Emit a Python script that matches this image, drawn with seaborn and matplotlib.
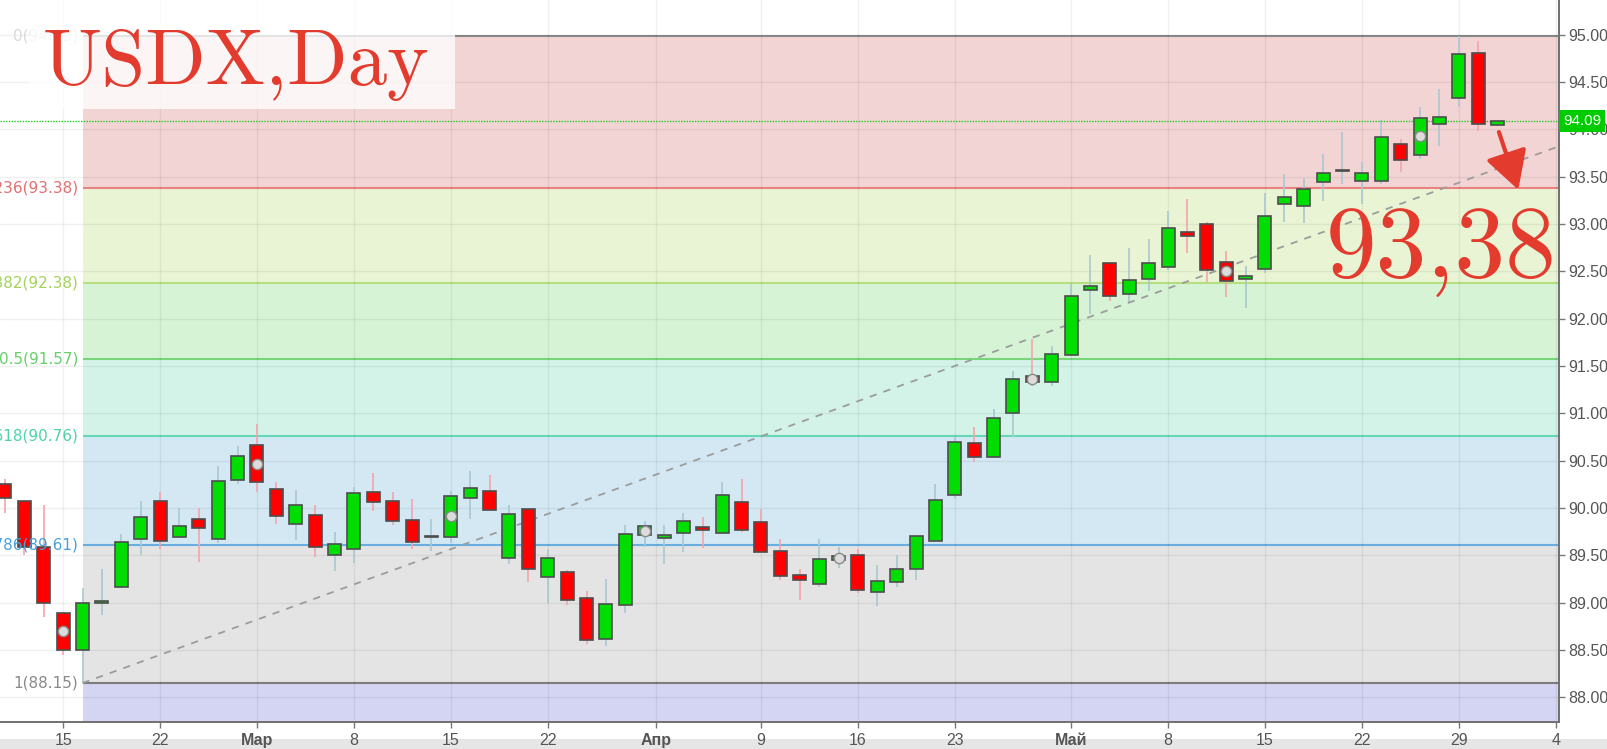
import numpy as np
import pandas as pd
import matplotlib
matplotlib.use("Agg")
import matplotlib.pyplot as plt
from matplotlib.patches import Rectangle
from matplotlib.ticker import FormatStrFormatter
import seaborn as sns

sns.set_theme(style="white")
plt.rcParams['font.family'] = ['DejaVu Sans']

# daily candles, trading-day index 0 = Feb 12
opens = [90.25, 90.07, 89.59, 88.89, 88.50, 89.00, 89.16, 89.67, 90.07, 89.69,
         89.88, 89.67, 90.30, 90.66, 90.20, 89.83, 89.92, 89.50, 89.57, 90.17,
         90.07, 89.87, 89.69, 89.69, 90.11, 90.18, 89.47, 89.99, 89.27, 89.32,
         89.05, 88.62, 88.97, 89.71, 89.68, 89.73, 89.80, 89.74, 90.06, 89.85,
         89.55, 89.29, 89.20, 89.45, 89.50, 89.11, 89.22, 89.36, 89.65, 90.14,
         90.69, 90.54, 91.00, 91.39, 91.33, 91.62, 92.30, 92.59, 92.26, 92.42,
         92.55, 92.91, 93.00, 92.60, 92.42, 92.52, 93.21, 93.19, 93.44, 93.56,
         93.45, 93.45, 93.84, 93.73, 94.06, 94.33, 94.80, 94.04]
highs = [90.31, 90.07, 90.03, 88.90, 89.15, 89.36, 89.72, 90.07, 90.17, 90.00,
         90.00, 90.44, 90.65, 90.89, 90.27, 90.19, 90.03, 89.75, 90.22, 90.37,
         90.17, 90.09, 89.88, 90.18, 90.39, 90.35, 90.03, 89.99, 89.57, 89.34,
         89.12, 89.25, 89.82, 89.86, 89.82, 89.95, 89.90, 90.27, 90.31, 89.99,
         89.67, 89.36, 89.67, 89.59, 89.57, 89.40, 89.50, 89.71, 90.25, 90.75,
         90.85, 91.04, 91.45, 91.78, 91.71, 92.36, 92.67, 92.60, 92.75, 92.84,
         93.14, 93.26, 93.02, 92.71, 92.56, 93.33, 93.53, 93.48, 93.74, 93.97,
         93.65, 94.10, 93.90, 94.23, 94.43, 94.99, 94.93, 94.10]
lows = [89.95, 89.50, 88.85, 88.45, 88.15, 88.87, 89.15, 89.50, 89.57, 89.68,
        89.43, 89.63, 90.25, 90.17, 89.83, 89.66, 89.48, 89.33, 89.42, 89.97,
        89.82, 89.57, 89.54, 89.63, 89.88, 89.97, 89.41, 89.22, 89.00, 88.97,
        88.56, 88.54, 88.89, 89.59, 89.41, 89.53, 89.58, 89.74, 89.75, 89.53,
        89.24, 89.03, 89.17, 89.37, 89.10, 88.96, 89.17, 89.24, 89.65, 90.09,
        90.48, 90.54, 90.75, 91.29, 91.29, 91.61, 92.05, 92.19, 92.18, 92.29,
        92.51, 92.69, 92.39, 92.23, 92.11, 92.48, 93.02, 93.01, 93.24, 93.42,
        93.21, 93.42, 93.55, 93.69, 93.82, 94.23, 93.98, 94.03]
closes = [90.10, 89.59, 89.00, 88.50, 89.00, 89.01, 89.64, 89.90, 89.65, 89.81,
          89.79, 90.28, 90.55, 90.27, 89.91, 90.03, 89.59, 89.62, 90.16, 90.06,
          89.86, 89.64, 89.70, 90.13, 90.21, 89.98, 89.94, 89.36, 89.47, 89.03,
          88.60, 88.98, 89.72, 89.81, 89.71, 89.86, 89.77, 90.14, 89.77, 89.53,
          89.28, 89.24, 89.46, 89.49, 89.13, 89.23, 89.35, 89.70, 90.08, 90.70,
          90.54, 90.95, 91.36, 91.33, 91.63, 92.24, 92.34, 92.24, 92.41, 92.59,
          92.96, 92.87, 92.51, 92.40, 92.45, 93.08, 93.28, 93.37, 93.54, 93.57,
          93.54, 93.92, 93.68, 94.12, 94.13, 94.79, 94.06, 94.09]
event_days = [3, 13, 23, 33, 43, 53, 63, 73]

tick_pos = [3, 8, 13, 18, 23, 28, 33.6, 39, 44, 49, 55, 60, 65, 70, 75, 80]
tick_labels = ['15', '22', 'Мар', '8', '15', '22', 'Апр', '9', '16', '23',
               'Май', '8', '15', '22', '29', '4']
month_labels = ['Мар', 'Апр', 'Май']

fib_ratios = ['0', '0.236', '0.382', '0.5', '0.618', '0.786', '1']
fib_levels = [94.99, 93.38, 92.38, 91.57, 90.76, 89.61, 88.15]
fib_start = 4
trend_x = [4, 80.17]
trend_y = [88.15, 93.82]
last_price = 94.09
arrow_from = (77.07, 93.97)
arrow_to = (78.07, 93.36)

X_MIN, X_MAX = -0.258, 80.17
Y_MIN, Y_MAX = 87.742, 95.365

line_colors = ['#8c8c8c', '#e98282', '#b4df7c', '#78d67a', '#66d8b6', '#68aee0', '#7d7d7d']
label_colors = ['#d9d9d9', '#e26f6f', '#a3d35c', '#66cf6a', '#4fd3a6', '#46a0dc', '#8a8a8a']
band_colors = ['#f2d4d4', '#e9f4d4', '#d6f3d6', '#d3f3e8', '#d3e8f3', '#e4e4e4', '#d4d4f3']
RED = '#e33b2e'

df = pd.DataFrame({'o': opens, 'h': highs, 'l': lows, 'c': closes})
df['i'] = np.arange(len(df))
df['up'] = df.c >= df.o

fig = plt.figure(figsize=(16.08, 7.49), dpi=100)
ax = fig.add_axes([0, 27.3 / 749, 1559 / 1608, 721.7 / 749])
ax.set_xlim(X_MIN, X_MAX)
ax.set_ylim(Y_MIN, Y_MAX)

# fibonacci bands
bounds = fib_levels + [Y_MIN]
for k in range(len(fib_levels)):
    ax.fill_between([fib_start, X_MAX], bounds[k + 1], bounds[k],
                    color=band_colors[k], lw=0, zorder=0.5)
for lev, rat, lc, tc in zip(fib_levels, fib_ratios, line_colors, label_colors):
    ax.hlines(lev, fib_start, X_MAX, color=lc, lw=1.5, zorder=1)
    ax.text(fib_start - 0.22, lev, f'{rat}({lev:.2f})', ha='right', va='center',
            fontsize=11, color=tc, zorder=4)

# trend line
sns.lineplot(x=trend_x, y=trend_y, ax=ax, color='#9c9c9c', lw=1.3,
             linestyle=(0, (4, 4)), zorder=2.5)

# candles
wick_col = np.where(df.up, '#a9c8d0', '#f4a4ac')
body_col = np.where(df.up, '#00dd00', '#ff0000')
ax.vlines(df.i, df.l, df.h, colors=wick_col, lw=1.2, zorder=2)
body_lo = np.minimum(df.o, df.c)
body_h = np.maximum((df.c - df.o).abs(), 0.012)
ax.bar(df.i, body_h, bottom=body_lo, width=0.67, color=body_col,
       edgecolor='#4d4d4d', linewidth=1.2, zorder=3)
ev = df.loc[event_days]
ax.scatter(ev.i, (ev.o + ev.c) / 2, s=55, facecolor='#dcdcdc',
           edgecolor='#8a8a8a', linewidth=1, zorder=5)

# current price
ax.axhline(last_price, color='#22cc22', lw=1, linestyle=(0, (1, 1)), zorder=2.8)
ax.annotate(f'{last_price:.2f}', xy=(1.0, last_price),
            xycoords=('axes fraction', 'data'), xytext=(3, 0),
            textcoords='offset points', ha='left', va='center',
            fontsize=11, color='white', annotation_clip=False,
            family='Liberation Sans',
            bbox=dict(boxstyle='square,pad=0.25', fc='#00cc00', ec='none'),
            zorder=10)

# arrow
ax.annotate('', xy=arrow_to, xytext=arrow_from,
            arrowprops=dict(arrowstyle='-|>,head_length=0.9,head_width=0.5',
                            color=RED, lw=3, mutation_scale=26,
                            shrinkA=0, shrinkB=0),
            annotation_clip=False, zorder=9)

# axes styling
ax.grid(True, color='#000000', alpha=0.06, lw=1)
ax.set_axisbelow('line')
ax.yaxis.tick_right()
ax.set_yticks(np.arange(88.0, 95.01, 0.5))
ax.yaxis.set_major_formatter(FormatStrFormatter('%.2f'))
ax.set_xticks(tick_pos, tick_labels)
for t in ax.get_xticklabels():
    t.set_family('Liberation Sans')
    if t.get_text() in month_labels:
        t.set_fontweight('bold')
for t in ax.get_yticklabels():
    t.set_family('Liberation Sans')
ax.tick_params(axis='y', right=True, left=False, length=4, width=1,
               color='#777777', pad=3, labelsize=11.5, labelcolor='#555555')
ax.tick_params(axis='x', bottom=True, length=4, width=1, color='#777777',
               pad=4, labelsize=11.5, labelcolor='#555555')
for s in ['top', 'left']:
    ax.spines[s].set_visible(False)
for s in ['right', 'bottom']:
    ax.spines[s].set_color('#707070')
    ax.spines[s].set_linewidth(1.4)
ax.set_xlabel('')
ax.set_ylabel('')

# title box and big texts
fig.patches.append(Rectangle((30 / 1608, 1 - 109 / 749), 425 / 1608, 109 / 749,
                             transform=fig.transFigure, fc='white', alpha=0.78,
                             ec='none', zorder=1))
fig.text(43 / 1608, 1 - 85 / 749, 'USDX,Day', ha='left', va='baseline',
         fontsize=57, family='cmr10', color=RED, zorder=3)
fig.text(1557 / 1608, 1 - 277 / 749, '93,38', ha='right', va='baseline',
         fontsize=73, family='cmr10', color=RED, zorder=3)

# bottom strip
fig.patches.append(Rectangle((0, 0), 1, 10 / 749, transform=fig.transFigure,
                             fc='#e6e6e6', ec='none', zorder=-1))

fig.savefig('out.png', dpi=100)
